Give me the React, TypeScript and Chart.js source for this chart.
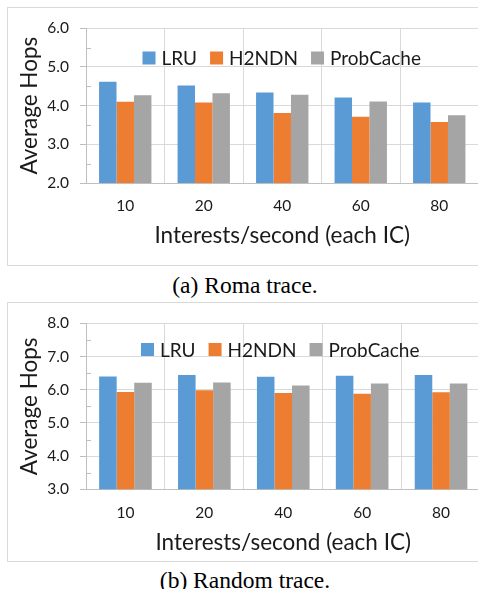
import React, { useEffect, useRef } from "react";
import { Chart, registerables } from "chart.js";

Chart.register(...registerables);

const categories = ["10", "20", "40", "60", "80"];
const seriesNames = ["LRU", "H2NDN", "ProbCache"];
const seriesColors = ["#5B9BD5", "#ED7D31", "#A5A5A5"];

const romaLRU = [4.62, 4.52, 4.34, 4.21, 4.08];
const romaH2NDN = [4.1, 4.08, 3.81, 3.71, 3.58];
const romaProb = [4.27, 4.32, 4.28, 4.11, 3.75];

const randomLRU = [6.4, 6.44, 6.39, 6.42, 6.44];
const randomH2NDN = [5.93, 5.98, 5.9, 5.88, 5.92];
const randomProb = [6.21, 6.22, 6.13, 6.19, 6.19];

const romaRange = [2, 6];
const randomRange = [3, 8];

const yTitle = "Average Hops";
const xTitle = "Interests/second (each IC)";
const captionA = "(a) Roma trace.";
const captionB = "(b) Random trace.";

const FONT = "Lato, 'Open Sans', sans-serif";
const LEGEND_SIZE = 19;

const minorTicks = {
  id: "minorTicks",
  afterDatasetsDraw(chart: any) {
    const y = chart.scales.y;
    const ctx = chart.ctx;
    const { min, max } = y;
    ctx.save();
    ctx.strokeStyle = "#bfbfbf";
    ctx.lineWidth = 1;
    for (let v = min + 0.5; v < max; v += 1) {
      const py = Math.round(y.getPixelForValue(v)) + 0.5;
      ctx.beginPath();
      ctx.moveTo(chart.chartArea.left, py);
      ctx.lineTo(chart.chartArea.left + 5, py);
      ctx.stroke();
    }
    ctx.restore();
  },
};

const innerLegend = {
  id: "innerLegend",
  afterDraw(chart: any, _args: any, opts: any) {
    const ctx = chart.ctx;
    const area = chart.chartArea;
    const box = 13;
    const gapText = 6;
    const gapItem = 13;
    ctx.save();
    ctx.font = `${LEGEND_SIZE}px ${FONT}`;
    ctx.textBaseline = "middle";
    ctx.textAlign = "left";
    const items = chart.data.datasets.map((d: any) => ({
      label: d.label,
      color: d.backgroundColor,
      w: ctx.measureText(d.label).width,
    }));
    const total =
      items.reduce((s: number, it: any) => s + box + gapText + it.w, 0) + gapItem * (items.length - 1);
    let x = (area.left + area.right) / 2 - total / 2 + (opts.dx || 0);
    const cy = area.top + opts.offsetY;
    for (const it of items) {
      ctx.fillStyle = it.color;
      ctx.fillRect(x, cy - box / 2, box, box);
      x += box + gapText;
      ctx.fillStyle = "#1a1a1a";
      ctx.fillText(it.label, x, cy + 1);
      x += it.w + gapItem;
    }
    ctx.restore();
  },
};

type PanelProps = {
  top: number;
  boxHeight: number;
  values: number[][];
  range: number[];
  padTop: number;
  xAxisHeight: number;
  padRight: number;
  titlePadBottom: number;
  legendOffset: number;
  legendDx: number;
};

function Panel(p: PanelProps) {
  const ref = useRef<HTMLCanvasElement | null>(null);
  const W = 480;
  const H = p.boxHeight - 2;
  useEffect(() => {
    if (!ref.current) return;
    const chart = new Chart(ref.current, {
      type: "bar",
      data: {
        labels: categories,
        datasets: seriesNames.map((n, i) => ({
          label: n,
          data: p.values[i],
          backgroundColor: seriesColors[i],
          borderWidth: 0,
          barPercentage: 1,
          categoryPercentage: 0.667,
        })),
      },
      options: {
        responsive: false,
        animation: false,
        devicePixelRatio: 1,
        layout: { padding: { top: p.padTop, right: p.padRight, left: 0, bottom: 0 } },
        plugins: {
          tooltip: { enabled: false },
          legend: { display: false },
          innerLegend: { offsetY: p.legendOffset, dx: p.legendDx },
        } as any,
        scales: {
          x: {
            grid: { color: "#d9d9d9", drawTicks: false, offset: true },
            border: { color: "#bfbfbf" },
            ticks: { font: { family: FONT, size: 15.5 }, color: "#1a1a1a", padding: 14 },
            title: {
              display: true,
              text: xTitle,
              font: { family: FONT, size: 22.5 },
              color: "#1a1a1a",
              padding: { top: 0, bottom: p.titlePadBottom },
            },
            afterFit(scale: any) {
              scale.height = p.xAxisHeight;
            },
          },
          y: {
            min: p.range[0],
            max: p.range[1],
            grid: {
              color: (c: any) => (c.tick && Math.abs(c.tick.value % 1) < 1e-6 ? "#d9d9d9" : "rgba(0,0,0,0)"),
              tickColor: (c: any) => (c.tick && Math.abs(c.tick.value % 1) < 1e-6 ? "#bfbfbf" : "rgba(0,0,0,0)"),
              tickLength: 6,
            },
            border: { color: "#bfbfbf" },
            ticks: {
              stepSize: 0.5,
              autoSkip: false,
              font: { family: FONT, size: 15.5 },
              color: "#1a1a1a",
              padding: 11,
              callback: (v: any) => (Math.abs(Number(v) % 1) < 1e-6 ? Number(v).toFixed(1) : ""),
            },
            title: {
              display: true,
              text: yTitle,
              font: { family: FONT, size: 22.5 },
              color: "#1a1a1a",
              padding: { top: 8, bottom: 0 },
            },
            afterFit(scale: any) {
              scale.width = 78;
            },
          },
        },
      },
      plugins: [minorTicks, innerLegend],
    });
    return () => chart.destroy();
  }, []);
  return (
    <div
      style={{
        position: "absolute",
        left: 7,
        top: p.top,
        width: W,
        height: H,
        border: "1px solid #d9d9d9",
      }}
    >
      <canvas ref={ref} width={W} height={H} style={{ display: "block", width: W, height: H }} />
    </div>
  );
}

const captionStyle: React.CSSProperties = {
  position: "absolute",
  left: 0,
  width: 490,
  textAlign: "center",
  fontFamily: "'Liberation Serif', 'Times New Roman', serif",
  fontSize: 23.5,
  lineHeight: "26px",
  color: "#000",
};

export default function App() {
  return (
    <div
      style={{
        position: "fixed",
        left: 0,
        top: 0,
        width: 478,
        height: 589,
        overflow: "hidden",
        background: "#fff",
      }}
    >
      <Panel
        top={7}
        boxHeight={259}
        values={[romaLRU, romaH2NDN, romaProb]}
        range={romaRange}
        padTop={16}
        xAxisHeight={82}
        padRight={9.5}
        titlePadBottom={15.5}
        legendOffset={29.7}
        legendDx={-0.5}
      />
      <div style={{ ...captionStyle, top: 272 }}>{captionA}</div>
      <Panel
        top={302}
        boxHeight={260}
        values={[randomLRU, randomH2NDN, randomProb]}
        range={randomRange}
        padTop={16.3}
        xAxisHeight={71.7}
        padRight={7.5}
        titlePadBottom={5.2}
        legendOffset={26.2}
        legendDx={-3}
      />
      <div style={{ ...captionStyle, top: 567 }}>{captionB}</div>
    </div>
  );
}
